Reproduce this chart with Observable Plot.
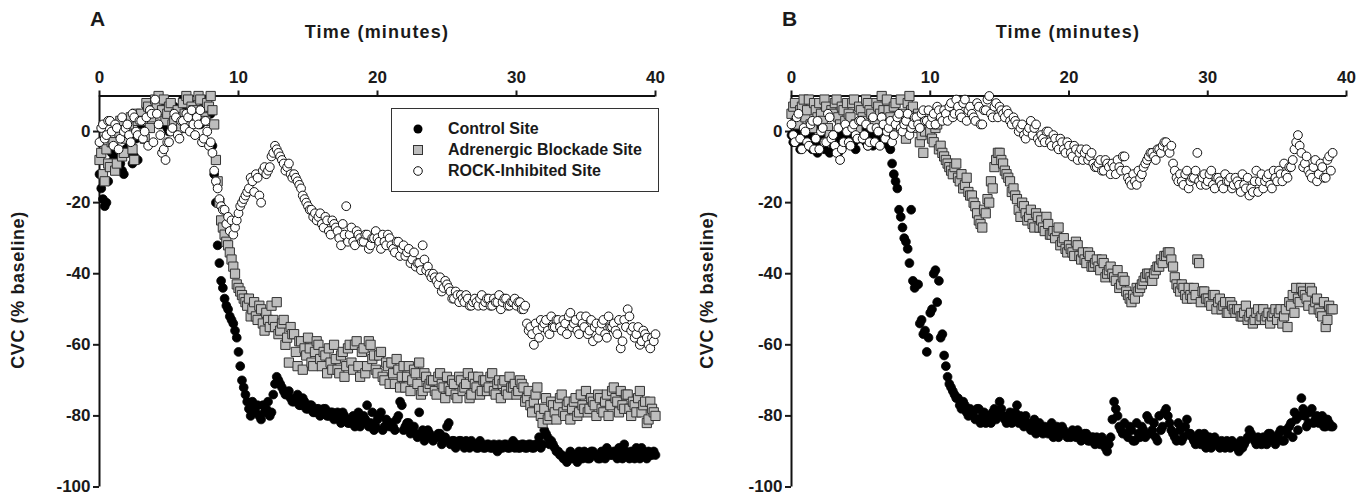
<!DOCTYPE html>
<html><head><meta charset="utf-8">
<script src="https://cdn.jsdelivr.net/npm/d3@7"></script>
<script src="https://cdn.jsdelivr.net/npm/@observablehq/plot@0.6"></script>
<style>
body{margin:0;background:#fff;width:1371px;height:502px;position:relative;overflow:hidden;font-family:"Liberation Sans",Arial,sans-serif;color:#1a1a1a}
.abs{position:absolute}
.panel{font-weight:bold;font-size:21px}
.xt{font-weight:bold;font-size:18px;letter-spacing:1.2px;transform:translateX(-50%);white-space:nowrap}
.yt{font-weight:bold;font-size:18px;letter-spacing:0.6px;white-space:nowrap;transform:translate(-50%,-50%) rotate(-90deg)}
.legend{border:1.5px solid #333;box-sizing:border-box;background:#fff}
.lrow{position:absolute;left:0;height:20px;display:flex;align-items:center;font-size:16px;font-weight:bold;white-space:nowrap}
.lrow svg{position:absolute;left:19px}
.lrow span{position:absolute;left:56px}
</style></head><body>
<div id="A" class="abs" style="left:0;top:0"></div>
<div id="B" class="abs" style="left:685px;top:0"></div>
<div class="abs panel" style="left:90px;top:7px">A</div>
<div class="abs panel" style="left:782px;top:7px">B</div>
<div class="abs xt" style="left:377px;top:22px">Time (minutes)</div>
<div class="abs xt" style="left:1068px;top:22px">Time (minutes)</div>
<div class="abs yt" style="left:18px;top:290px">CVC (% baseline)</div>
<div class="abs yt" style="left:707px;top:290px">CVC (% baseline)</div>
<div id="legend" class="abs legend" style="left:391px;top:108px;width:268px;height:84px"></div>
<script>
// Samples every 0.25 min starting at t=0 (main arrays) and at t=0.125 (the "...2" arrays)
const step = 0.25;
const seriesNames = ["Control Site", "Adrenergic Blockade Site", "ROCK-Inhibited Site"];
const xTicks = [0, 10, 20, 30, 40];
const yTicks = [0, -20, -40, -60, -80, -100];

// ---------- Panel A — CVC (% baseline) ----------
const ctlA = [
-12,-19,-20,-10, -8,-5,-9,-12, -6,-3,-7,-8, 2,5,6,7, 4,8,3,5,
0,4,6,2, 9,6,8,3, 5,2,7,8, 5,-12,-32,-42, -47,-50,-53,-56,
-62,-70,-74,-78, -76,-79,-80,-77, -78,-80,-74,-69, -71,-73,-74,-75, -76,-74,-77,-76,
-78,-77,-79,-78, -79,-78,-80,-79, -80,-81,-79,-81, -82,-80,-81,-83, -80,-77,-82,-84,
-81,-79,-83,-82, -82,-84,-80,-77, -83,-82,-84,-85, -79,-84,-86,-85, -87,-86,-85,-87,
-83,-88,-87,-88, -87,-89,-88,-87, -88,-89,-88,-89, -88,-89,-89,-88, -89,-88,-89,-87,
-88,-89,-88,-89, -88,-89,-88,-89, -84,-86,-87,-89, -90,-91,-92,-91, -92,-91,-90,-92,
-91,-92,-90,-91, -92,-91,-89,-91, -90,-92,-91,-88, -91,-90,-92,-91, -89,-91,-90,-91,
-91];
const ctlA2 = [
-16,-21,-14,-6, -10,-7,-11,-5, -4,-9,-2,3, 4,7,8,5, 6,2,7,1,
3,7,1,5, 7,9,4,6, 3,6,9,7, -4,-20,-37,-44, -49,-52,-54,-58,
-66,-72,-76,-80, -78,-77,-81,-79, -76,-79,-71,-70, -72,-74,-73,-76, -75,-77,-75,-78,
-77,-79,-78,-80, -78,-80,-79,-81, -79,-82,-80,-82, -81,-83,-79,-82, -81,-83,-79,-83,
-80,-84,-81,-83, -83,-81,-76,-84, -82,-85,-83,-86, -85,-87,-84,-86, -86,-85,-88,-86,
-82,-87,-89,-87, -88,-87,-89,-88, -89,-87,-89,-88, -89,-88,-90,-89, -88,-89,-88,-89,
-89,-88,-89,-88, -89,-88,-86,-88, -85,-88,-88,-90, -91,-92,-93,-90, -91,-93,-91,-90,
-92,-90,-91,-92, -90,-92,-90,-91, -91,-89,-92,-90, -92,-91,-89,-92, -90,-92,-91,-90];
const adrA = [
-8,-12,-5,-10, -3,-9,3,-6, 0,4,-8,3, 5,-2,7,4, 9,10,6,3,
7,2,5,4, 8,10,3,6, 5,9,4,8, 10,2,-14,-25, -29,-32,-36,-40,
-44,-46,-48,-47, -50,-52,-49,-54, -51,-55,-53,-48, -56,-53,-58,-55, -57,-66,-59,-61,
-58,-65,-62,-60, -66,-63,-61,-67, -64,-68,-62,-66, -60,-67,-59,-69, -61,-66,-60,-63,
-68,-62,-70,-66, -65,-71,-67,-69, -72,-66,-70,-68, -65,-73,-69,-71, -70,-74,-68,-72,
-69,-73,-71,-75, -70,-72,-68,-74, -71,-69,-73,-70, -72,-68,-74,-70, -71,-73,-69,-72,
-74,-70,-72,-75, -77,-76,-72,-80, -78,-81,-76,-79, -77,-74,-80,-76, -78,-75,-79,-77,
-73,-78,-76,-80, -75,-79,-74,-77, -72,-76,-73,-78, -74,-80,-77,-75, -79,-76,-81,-78,
-80];
const adrA2 = [
-6,-14,-9,-3, -11,0,-7,-2, 2,-5,5,-1, 3,8,1,6, 7,4,9,5,
8,3,6,1, 5,9,7,4, 10,6,3,7, 6,-8,-20,-27, -31,-34,-38,-43,
-45,-47,-49,-52, -48,-53,-50,-56, -53,-49,-55,-57, -54,-60,-65,-57, -62,-59,-67,-63,
-61,-66,-59,-64, -62,-68,-65,-60, -67,-63,-69,-61, -65,-60,-66,-62, -68,-59,-64,-67,
-63,-69,-65,-71, -68,-64,-72,-66, -69,-73,-67,-71, -74,-68,-72,-70, -73,-69,-71,-75,
-72,-70,-74,-69, -73,-71,-75,-69, -72,-74,-70,-73, -69,-73,-71,-75, -70,-74,-72,-71,
-73,-71,-76,-73, -79,-74,-78,-82, -75,-80,-77,-81, -75,-79,-77,-81, -76,-80,-74,-78,
-79,-75,-77,-74, -78,-76,-80,-73, -75,-79,-77,-74, -78,-76,-79,-73, -77,-82,-76,-79];
const rockA = [
-3,2,-1,3, -4,1,-2,0, 2,-3,4,-1, 3,0,-4,5, 9,2,-6,-8,
-3,1,4,-2, 3,5,0,2, 4,6,-2,0, -3,-11,-16,-21, -22,-24,-25,-27,
-23,-20,-18,-16, -14,-12,-18,-11, -12,-10,-6,-5, -7,-9,-10,-12, -12,-14,-16,-19,
-21,-22,-23,-24, -26,-24,-28,-25, -27,-30,-26,-21, -29,-31,-28,-30, -31,-29,-32,-30,
-30,-33,-31,-29, -32,-34,-31,-33, -35,-33,-36,-38, -37,-32,-39,-40, -40,-42,-41,-44,
-43,-45,-47,-46, -46,-48,-47,-49, -47,-49,-46,-48, -47,-49,-48,-46, -48,-47,-49,-48,
-49,-48,-50,-54, -55,-60,-56,-53, -54,-56,-52,-55, -53,-56,-54,-52, -55,-53,-57,-54,
-52,-56,-59,-54, -56,-53,-58,-55, -54,-57,-61,-53, -50,-56,-58,-55, -59,-57,-60,-58,
-57];
const rockA2 = [
1,-2,3,0, 2,-5,4,1, -1,5,0,3, -2,4,6,-3, 5,-1,-5,-3,
0,5,-1,3, 1,4,6,-1, 2,-3,3,-4, -6,-14,-19,-22, -26,-28,-29,-25,
-21,-19,-17,-13, -17,-13,-20,-10, -11,-7,-4,-6, -8,-11,-9,-13, -13,-15,-18,-20,
-22,-24,-25,-23, -27,-25,-29,-26, -28,-32,-29,-31, -27,-32,-29,-31, -29,-33,-30,-28,
-31,-29,-32,-30, -33,-31,-35,-32, -34,-37,-34,-37, -39,-36,-38,-41, -41,-43,-45,-42,
-44,-47,-45,-48, -47,-46,-49,-48, -48,-47,-49,-47, -49,-47,-48,-50, -47,-49,-48,-47,
-48,-50,-49,-56, -57,-54,-58,-55, -53,-57,-55,-53, -55,-53,-57,-51, -54,-56,-52,-55,
-57,-53,-55,-58, -54,-57,-52,-55, -56,-53,-59,-55, -52,-55,-57,-60, -56,-58,-61,-59];

// ---------- Panel B — CVC (% baseline) ----------
const ctlB = [
-1,-3,2,-4, -2,0,-5,-3, 1,-4,-2,-6, -5,-3,-1,-4, -2,0,-3,-1,
2,-2,-4,0, -1,-3,1,-2, -4,-9,-14,-22, -27,-31,-37,-42, -43,-54,-57,-62,
-51,-40,-48,-58, -63,-69,-72,-74, -75,-78,-77,-80, -79,-81,-78,-80, -82,-80,-79,-81,
-76,-80,-82,-79, -81,-77,-80,-83, -82,-84,-81,-83, -84,-83,-85,-82, -84,-86,-83,-85,
-85,-84,-86,-85, -86,-85,-87,-86, -86,-88,-87,-90, -86,-76,-80,-84, -82,-86,-84,-87,
-85,-83,-86,-81, -84,-86,-80,-83, -78,-82,-85,-87, -84,-86,-81,-85, -87,-86,-88,-85,
-87,-89,-86,-88, -87,-89,-88,-87, -88,-90,-89,-87, -84,-86,-88,-87, -86,-88,-85,-87,
-86,-84,-87,-85, -82,-79,-84,-75, -80,-82,-78,-81, -82,-80,-83,-82,
-83];
const ctlB2 = [
-3,0,-5,-2, -4,-1,-3,-6, -2,-5,0,-3, -4,-6,-2,-3, -1,-3,-5,-2,
0,-3,-1,-4, -2,0,-3,-1, -5,-12,-16,-24, -30,-33,-22,-44, -43,-53,-56,-58,
-50,-39,-42,-57, -66,-71,-73,-75, -77,-76,-79,-78, -80,-78,-82,-79, -80,-82,-78,-80,
-78,-81,-80,-82, -79,-82,-81,-80, -83,-82,-85,-82, -85,-84,-83,-86, -83,-85,-84,-86,
-86,-85,-84,-87, -85,-87,-86,-88, -87,-86,-89,-88, -81,-78,-83,-85, -85,-83,-87,-82,
-86,-84,-80,-85, -82,-87,-84,-79, -80,-84,-86,-82, -87,-83,-85,-86, -88,-85,-87,-89,
-86,-88,-87,-89, -88,-87,-89,-88, -89,-87,-88,-86, -85,-87,-86,-88, -87,-85,-86,-88,
-85,-87,-84,-83, -86,-81,-80,-78, -83,-79,-82,-80, -81,-83,-81,-83];
const adrB = [
5,8,2,7, 4,9,1,6, 8,3,7,-1, 5,9,2,6, 8,4,9,1,
6,3,8,5, 2,7,10,4, 6,1,8,3, 5,-2,10,7, 2,-3,-6,3,
0,-3,2,-4, -7,-9,-11,-10, -13,-12,-15,-17, -18,-21,-25,-27, -23,-20,-16,-8,
-6,-9,-12,-14, -16,-19,-24,-21, -25,-22,-27,-24, -25,-28,-26,-29, -30,-27,-31,-33,
-32,-34,-31,-35, -34,-37,-35,-38, -36,-39,-37,-40, -38,-41,-39,-43, -42,-46,-48,-47,
-45,-43,-41,-40, -42,-39,-38,-37, -35,-34,-38,-43, -45,-44,-47,-46, -44,-36,-48,-45,
-47,-49,-46,-48, -50,-48,-51,-49, -51,-50,-52,-49, -52,-54,-51,-53, -50,-52,-54,-51,
-53,-50,-52,-55, -49,-51,-47,-44, -46,-49,-45,-48, -50,-52,-55,-49,
-50];
const adrB2 = [
7,3,6,9, 6,2,8,4, 5,9,1,6, 8,4,7,3, 5,8,2,7,
4,9,6,3, 8,5,6,9, 4,7,2,9, 3,8,6,1, 5,-1,0,2,
-2,1,-5,-6, -8,-10,-12,-9, -14,-16,-13,-18, -20,-23,-26,-22, -19,-14,-10,-6,
-8,-11,-13,-17, -18,-22,-20,-23, -24,-26,-23,-27, -27,-24,-29,-28, -28,-32,-30,-34,
-33,-35,-32,-36, -36,-34,-38,-37, -38,-36,-41,-39, -40,-42,-44,-41, -45,-47,-46,-44,
-44,-42,-40,-41, -40,-38,-36,-35, -34,-36,-41,-44, -43,-46,-44,-47, -46,-37,-45,-47,
-48,-46,-50,-47, -49,-51,-48,-50, -50,-52,-51,-53, -51,-53,-50,-52, -53,-51,-52,-50,
-51,-54,-50,-48, -46,-44,-48,-45, -47,-44,-50,-47, -51,-48,-53,-50];
const rockB = [
2,-3,5,-5, 0,-4,3,-2, -5,1,-3,4, -1,-6,-8,-3, 0,-4,2,-2,
3,-1,-4,1, -3,0,4,-2, 1,-3,2,5, 0,3,-1,2, 4,1,6,3,
2,5,7,4, 6,3,8,5, 7,4,9,6, 5,3,7,2, 6,10,4,8,
7,5,6,3, 4,2,1,-1, 0,3,1,-2, -1,-3,0,-4, -2,-5,-3,-6,
-4,-7,-5,-6, -8,-5,-7,-9, -10,-8,-11,-9, -12,-10,-8,-11, -7,-13,-15,-14,
-11,-12,-9,-7, -6,-8,-5,-4, -3,-6,-9,-13, -12,-15,-11,-14, -13,-6,-15,-12,
-14,-11,-16,-13, -15,-12,-14,-16, -13,-15,-12,-16, -18,-17,-11,-14, -16,-13,-15,-11,
-14,-12,-9,-13, -10,-5,-1,-6, -9,-11,-13,-8, -12,-10,-13,-7,
-6];
const rockB2 = [
-1,4,-2,1, -3,2,-5,3, 0,-3,5,-2, -4,1,-5,2, -3,1,-1,3,
-2,2,-3,4, 1,-4,2,0, 3,-1,4,1, 2,5,1,4, 2,5,3,6,
4,2,6,3, 5,7,4,9, 5,8,3,7, 4,8,2,6, 9,5,7,4,
6,4,5,2, 3,0,2,-2, 1,-1,2,-3, -2,0,-3,-1, -4,-2,-5,-3,
-6,-4,-8,-5, -6,-8,-6,-10, -9,-11,-8,-10, -9,-12,-10,-7, -11,-14,-12,-15,
-13,-10,-8,-6, -7,-5,-6,-3, -5,-4,-11,-14, -14,-12,-16,-13, -11,-14,-13,-15,
-12,-15,-13,-14, -16,-14,-13,-15, -14,-17,-15,-13, -16,-14,-17,-12, -14,-12,-16,-13,
-11,-14,-12,-10, -8,-3,-4,-10, -7,-12,-10,-14, -9,-13,-8,-11];

const toRows = (a, b) => [
  ...a.map((v, i) => ({t: i * step, v})),
  ...b.map((v, i) => ({t: step / 2 + i * step, v}))
].sort((p, q) => p.t - q.t);
const fontStack = '"Liberation Sans", Arial, sans-serif';

function panel(ctl, adr, rock, width, ml, mr) {
  return Plot.plot({
    width, height: 502,
    marginLeft: ml, marginRight: mr, marginTop: 95.5, marginBottom: 15.5,
    x: {domain: [0, 40]},
    y: {domain: [-100, 10]},
    style: {fontFamily: fontStack, fontSize: "17px", fontWeight: "bold", color: "#1a1a1a", background: "transparent", overflow: "visible"},
    marks: [
      Plot.axisX({anchor: "top", ticks: xTicks, tickSize: 6, tickPadding: 7, tickFormat: d => String(d), label: null, strokeWidth: 2}),
      Plot.axisY({anchor: "left", ticks: yTicks, tickSize: 6, tickPadding: 3, tickFormat: d => String(d), label: null, strokeWidth: 2}),
      Plot.ruleY([10], {strokeWidth: 2, stroke: "#111"}),
      Plot.ruleX([0], {strokeWidth: 2, stroke: "#111"}),
      Plot.dot(ctl, {x: "t", y: "v", r: 4.4, fill: "#000", stroke: "#000", strokeWidth: 0.8}),
      Plot.dot(adr, {x: "t", y: "v", symbol: "square", r: 5.2, fill: "#bdbdbd", stroke: "#333", strokeWidth: 1}),
      Plot.dot(rock, {x: "t", y: "v", r: 4.4, fill: "#fff", stroke: "#111", strokeWidth: 1})
    ]
  });
}

document.getElementById("A").append(panel(toRows(ctlA, ctlA2), toRows(adrA, adrA2), toRows(rockA, rockA2), 685, 99, 30));
document.getElementById("B").append(panel(toRows(ctlB, ctlB2), toRows(adrB, adrB2), toRows(rockB, rockB2), 686, 106, 25));

// Legend
const legendSymbols = [
  '<svg width="14" height="14"><circle cx="7" cy="7" r="4.5" fill="#000"/></svg>',
  '<svg width="14" height="14"><rect x="2.5" y="2.5" width="9" height="9" fill="#bdbdbd" stroke="#333"/></svg>',
  '<svg width="14" height="14"><circle cx="7" cy="7" r="4.3" fill="#fff" stroke="#111"/></svg>'
];
const lg = document.getElementById("legend");
seriesNames.forEach((name, i) => {
  const row = document.createElement("div");
  row.className = "lrow";
  row.style.top = (10 + i * 21) + "px";
  row.style.width = "100%";
  row.innerHTML = legendSymbols[i] + "<span>" + name + "</span>";
  lg.append(row);
});
</script>
</body></html>
